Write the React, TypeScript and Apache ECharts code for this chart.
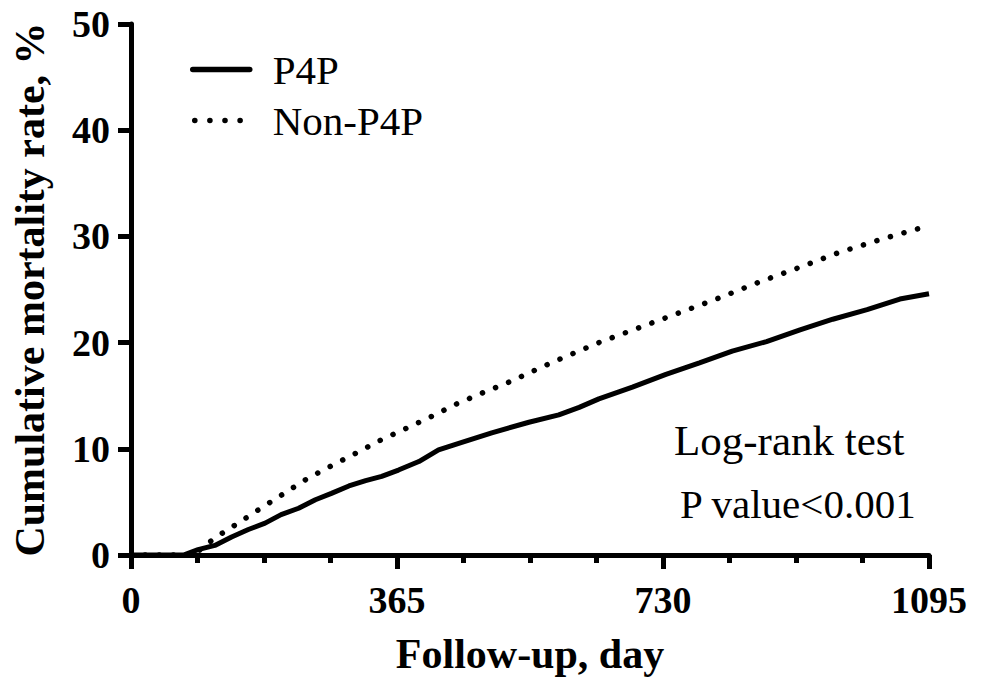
import React, { useEffect, useRef } from "react";
import * as echarts from "echarts";

const seriesNames = ["P4P", "Non-P4P"];

const p4pDays = [0, 72, 92, 115, 138, 161, 184, 206, 230, 253, 275, 299, 322, 344, 367, 395, 422, 454, 495, 546, 587, 615, 642, 688, 734, 780, 825, 872, 918, 963, 1010, 1055, 1095];
const p4pRates = [0, 0, 0.5, 0.9, 1.7, 2.4, 3.0, 3.8, 4.4, 5.2, 5.8, 6.5, 7.0, 7.4, 8.0, 8.8, 9.9, 10.6, 11.5, 12.5, 13.2, 13.9, 14.7, 15.8, 17.0, 18.1, 19.2, 20.1, 21.2, 22.2, 23.1, 24.1, 24.6];

const nonDays = [0, 86, 101, 117, 147, 178, 210, 242, 275, 309, 342, 377, 411, 446, 480, 516, 580, 642, 697, 752, 807, 862, 918, 972, 1028, 1084, 1095];
const nonRates = [0, 0, 0.85, 1.7, 3.0, 4.4, 5.8, 7.2, 8.4, 9.6, 10.8, 11.9, 13.0, 14.2, 15.2, 16.2, 18.2, 20.0, 21.4, 22.8, 24.2, 25.7, 27.1, 28.5, 29.7, 30.8, 31.0];

const xTicks = [0, 365, 730, 1095];
const yTicks = [0, 10, 20, 30, 40, 50];

const annotations = ["Log-rank test", "P value<0.001"];

const FONT = "Liberation Serif";

export default function App() {
  const ref = useRef<HTMLDivElement>(null);
  useEffect(() => {
    if (!ref.current) return;
    const chart = echarts.init(ref.current, null, { renderer: "svg" });
    const zip = (a: number[], b: number[]) => a.map((d, i) => [d, b[i]]);
    const axisColor = "#000";
    chart.setOption({
      animation: false,
      backgroundColor: "#fff",
      textStyle: { fontFamily: FONT },
      grid: { left: 131, right: 55, top: 24, bottom: 124, containLabel: false, outerBoundsMode: "none" },
      legend: {
        orient: "vertical",
        left: 185,
        top: 44,
        itemWidth: 57,
        itemHeight: 20,
        itemGap: 10,
        data: [
          { name: seriesNames[0] },
          { name: seriesNames[1], lineStyle: { type: [0.1, 15], dashOffset: -2 } },
        ],
        itemStyle: { opacity: 0 },
        lineStyle: { width: 5.5, cap: "round" },
        textStyle: { fontFamily: FONT, fontSize: 41, color: "#000", padding: [0, 0, 0, 18] },
      },
      xAxis: {
        type: "value",
        min: xTicks[0],
        max: xTicks[xTicks.length - 1],
        interval: xTicks[1] - xTicks[0],
        name: "Follow-up, day",
        nameLocation: "middle",
        nameGap: 78,
        nameTextStyle: { fontFamily: FONT, fontWeight: "bold", fontSize: 42, color: "#000" },
        axisLine: { lineStyle: { color: axisColor, width: 5 } },
        axisTick: { show: true, length: 14, lineStyle: { color: axisColor, width: 5 } },
        minorTick: { show: true, splitNumber: 4, length: 8, lineStyle: { color: axisColor, width: 5 } },
        splitLine: { show: false },
        minorSplitLine: { show: false },
        axisLabel: {
          fontFamily: FONT,
          fontWeight: "bold",
          fontSize: 38,
          color: "#000",
          margin: 26,
          formatter: (v: number) => String(v),
        },
      },
      yAxis: {
        type: "value",
        min: yTicks[0],
        max: yTicks[yTicks.length - 1],
        interval: yTicks[1] - yTicks[0],
        name: "Cumulative mortality rate, %",
        nameLocation: "middle",
        nameGap: 80,
        nameTextStyle: { fontFamily: FONT, fontWeight: "bold", fontSize: 42, color: "#000" },
        axisLine: { show: true, lineStyle: { color: axisColor, width: 5 } },
        axisTick: { show: true, length: 13, lineStyle: { color: axisColor, width: 5 } },
        splitLine: { show: false },
        axisLabel: {
          fontFamily: FONT,
          fontWeight: "bold",
          fontSize: 38,
          color: "#000",
          margin: 21,
          formatter: (v: number) => String(v),
        },
      },
      series: [
        {
          name: seriesNames[0],
          type: "line",
          data: zip(p4pDays, p4pRates),
          symbol: "none",
          lineStyle: { color: "#000", width: 5 },
          itemStyle: { color: "#000" },
          z: 3,
        },
        {
          name: seriesNames[1],
          type: "line",
          data: zip(nonDays, nonRates),
          symbol: "none",
          lineStyle: { color: "#000", width: 5.5, type: [0.1, 14], cap: "round" },
          itemStyle: { color: "#000" },
          z: 3,
        },
      ],
      graphic: [
        {
          type: "text",
          left: 674,
          top: 419,
          style: { text: annotations[0], fontFamily: FONT, fontSize: 43, fill: "#000" },
        },
        {
          type: "text",
          left: 680,
          top: 483,
          style: { text: annotations[1], fontFamily: FONT, fontSize: 41, fill: "#000" },
        },
      ],
    });
    return () => chart.dispose();
  }, []);
  return (
    <div style={{ position: "absolute", left: 0, top: 0 }}>
      <div ref={ref} style={{ width: 984, height: 679 }} />
    </div>
  );
}
